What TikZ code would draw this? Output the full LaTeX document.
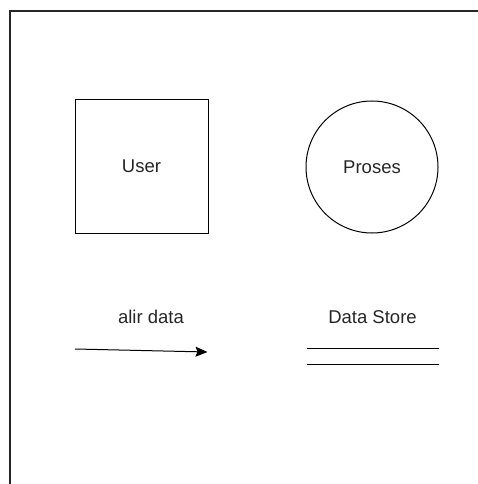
\documentclass[tikz,border=0pt]{standalone}
\usepackage{fontspec}
\setmainfont{Liberation Sans}
\usetikzlibrary{arrows.meta}
\definecolor{txt}{HTML}{262626}
\begin{document}
\begin{tikzpicture}[x=1pt,y=-1pt,
  lbl/.style={font=\fontsize{18.5}{20}\selectfont, text=txt, inner sep=0pt},
  outline/.style={draw=black, line width=1pt},
  frameline/.style={draw=black!85, line width=2pt}]
  \useasboundingbox (0,0) rectangle (478,484);
  % outer frame (top and left edges)
  \draw[frameline] (9.5,484) -- (9.5,11) -- (478,11);
  % external entity
  \node[outline, minimum width=133pt, minimum height=133pt, inner sep=0pt] (user) at (141.5,166.5) {};
  \node[lbl] (userlbl) at (user.center) {User};
  % process
  \node[outline, circle, minimum size=132pt, inner sep=0pt] (proc) at (372,167) {};
  \node[lbl] (proclbl) at (proc.center) {Proses};
  % data flow
  \coordinate (fs) at (75,349);
  \coordinate (fe) at (207.5,352);
  \draw[line width=1pt, -{Stealth[length=12pt,width=10pt,inset=2pt]}] (fs) -- (fe);
  \node[lbl] (flowlbl) at (151,317) {alir data};
  % data store
  \coordinate (s1a) at (306.5,348.5);
  \coordinate (s1b) at (439,348.5);
  \coordinate (s2a) at (306.5,364);
  \coordinate (s2b) at (439,364);
  \draw[line width=1pt] (s1a) -- (s1b);
  \draw[line width=1pt] (s2a) -- (s2b);
  \node[lbl] (storelbl) at (372.5,317) {Data Store};
\end{tikzpicture}
\end{document}
